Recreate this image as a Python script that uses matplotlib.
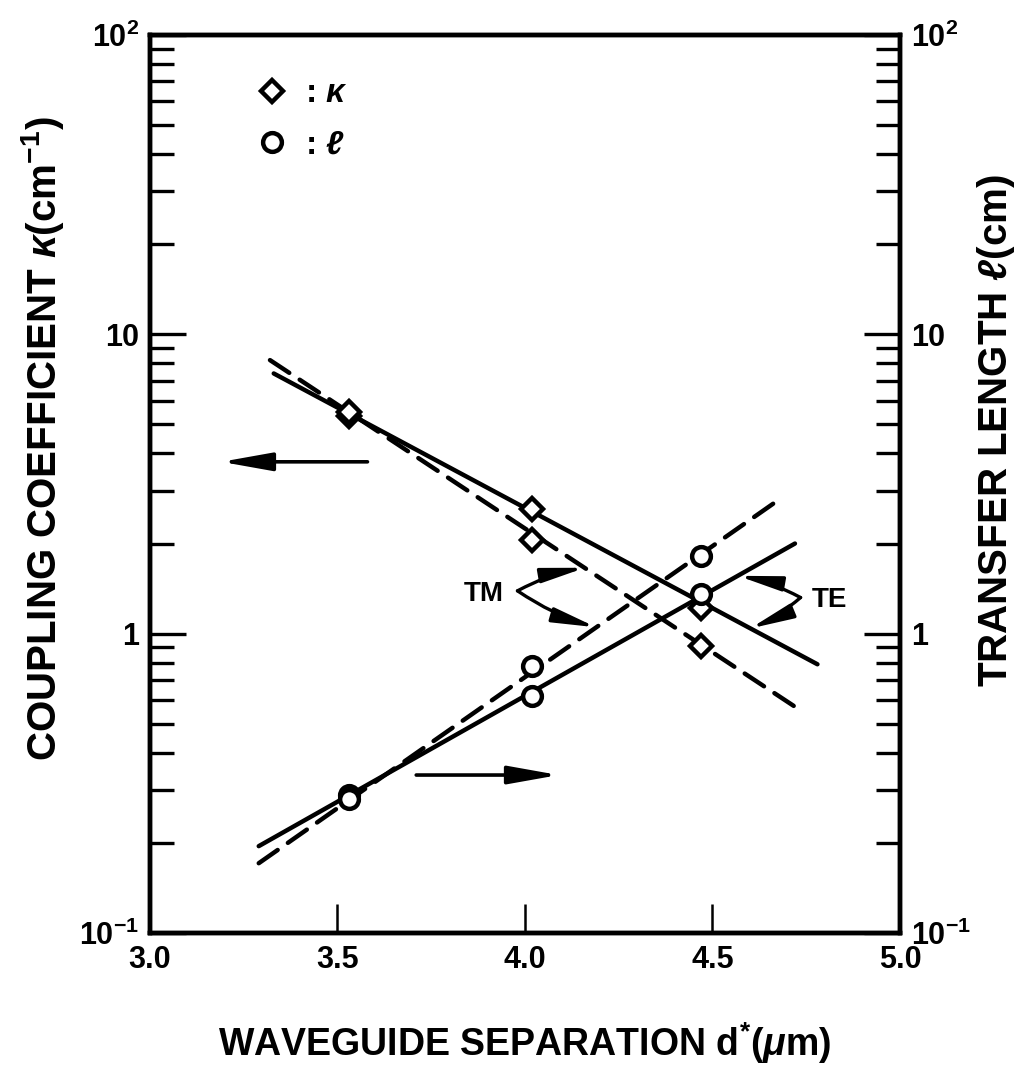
import matplotlib
matplotlib.use("Agg")
import matplotlib.pyplot as plt
from matplotlib.lines import Line2D
from matplotlib.ticker import FixedLocator, LogLocator, NullFormatter

plt.rcParams['font.family'] = ['Liberation Sans', 'DejaVu Sans']
plt.rcParams['font.weight'] = 'bold'
plt.rcParams['axes.labelweight'] = 'bold'
plt.rcParams['mathtext.fontset'] = 'custom'
plt.rcParams['mathtext.rm'] = 'Liberation Sans:bold'
plt.rcParams['mathtext.it'] = 'Liberation Sans:bold:italic'
plt.rcParams['mathtext.bf'] = 'Liberation Sans:bold'

# measured points (waveguide separation in um)
d_meas = [3.53, 4.02, 4.47]
kappa_te = [5.35, 2.6, 1.22]
kappa_tm = [5.5, 2.05, 0.91]
len_te = [0.29, 0.62, 1.36]
len_tm = [0.28, 0.78, 1.82]

# fitted straight lines, end points
kappa_te_fit_d = [3.33, 4.78]
kappa_te_fit = [7.4, 0.79]
kappa_tm_fit_d = [3.32, 4.72]
kappa_tm_fit = [8.2, 0.57]
len_te_fit_d = [3.29, 4.72]
len_te_fit = [0.195, 2.0]
len_tm_fit_d = [3.29, 4.675]
len_tm_fit = [0.171, 2.79]

x_ticks = [3.0, 3.5, 4.0, 4.5, 5.0]
x_labels = ['3.0', '3.5', '4.0', '4.5', '5.0']
y_ticks = [0.1, 1, 10, 100]
y_labels = [r'$10^{-1}$', '1', '10', r'$10^{2}$']

fig = plt.figure(figsize=(10.33, 10.73), dpi=100)
ax = fig.add_axes([0.1452, 0.1305, 0.7260, 0.8369])
ax2 = ax.twinx()

dash = (0, (5.2, 2.8))
lw = 3.2
mk = dict(ls='none', mfc='white', mec='black', mew=3.2)

# coupling coefficient (left axis)
ax.plot(kappa_te_fit_d, kappa_te_fit, color='black', lw=lw, solid_capstyle='round')
ax.plot(kappa_tm_fit_d, kappa_tm_fit, color='black', lw=lw, ls=dash, dash_capstyle='round')
ax.plot(d_meas, kappa_te, marker='D', ms=11, **mk)
ax.plot(d_meas, kappa_tm, marker='D', ms=11, **mk)

# transfer length (right axis)
ax2.plot(len_te_fit_d, len_te_fit, color='black', lw=lw, solid_capstyle='round')
ax2.plot(len_tm_fit_d, len_tm_fit, color='black', lw=lw, ls=dash, dash_capstyle='round')
ax2.plot(d_meas, len_te, marker='o', ms=13.5, **mk)
ax2.plot(d_meas, len_tm, marker='o', ms=13.5, **mk)

for a in (ax, ax2):
    a.set_yscale('log')
    a.set_ylim(0.1, 100)
    a.set_xlim(3.0, 5.0)
    a.yaxis.set_major_locator(FixedLocator(y_ticks))
    a.yaxis.set_minor_locator(LogLocator(base=10, subs=range(2, 10)))
    a.yaxis.set_minor_formatter(NullFormatter())
    a.set_yticks(y_ticks)
    a.set_yticklabels(y_labels, fontweight='bold')
    for s in a.spines.values():
        s.set_linewidth(3.2)

ax.set_xticks(x_ticks)
ax.set_xticklabels(x_labels, fontweight='bold')
ax.tick_params(axis='x', direction='in', length=21, width=1.8, labelsize=22, pad=9, top=False)
ax.tick_params(axis='y', which='major', direction='in', length=26, width=2.4, labelsize=22, pad=8, left=True, right=False)
ax.tick_params(axis='y', which='minor', direction='in', length=17, width=2.4, left=True, right=False)
ax2.tick_params(axis='y', which='major', direction='in', length=26, width=2.4, labelsize=22, pad=8)
ax2.tick_params(axis='y', which='minor', direction='in', length=17, width=2.4)

ax.set_xlabel(r'WAVEGUIDE SEPARATION d$^{*}$($\mu$m)', fontsize=27, fontweight='bold', labelpad=32)
ax.set_ylabel(r'COUPLING COEFFICIENT $\kappa$(cm$^{-1}$)', fontsize=29, fontweight='bold')
ax.yaxis.set_label_coords(-0.112, 0.55)
ax2.set_ylabel(r'TRANSFER LENGTH $\ell$(cm)', fontsize=29, fontweight='bold')
ax2.yaxis.set_label_coords(1.10, 0.56)

# legend for marker symbols
handles = [Line2D([], [], marker='D', ms=11, **mk), Line2D([], [], marker='o', ms=13.5, **mk)]
ax.legend(handles, [r': $\kappa$', r': $\ell$'], loc='upper left', bbox_to_anchor=(0.1, 0.985),
          frameon=False, fontsize=24, handlelength=1.0, handletextpad=0.5, labelspacing=0.6)

# axis pointers
head = '-|>,head_length=1.4,head_width=0.25'
ax.annotate('', xy=(3.19, 3.75), xytext=(3.58, 3.75),
            arrowprops=dict(arrowstyle=head, color='black', lw=2.6, mutation_scale=22, shrinkA=0, shrinkB=0))
ax2.annotate('', xy=(4.09, 0.337), xytext=(3.71, 0.337),
             arrowprops=dict(arrowstyle=head, color='black', lw=2.6, mutation_scale=22, shrinkA=0, shrinkB=0))

# TM / TE callouts
head2 = '-|>,head_length=1.3,head_width=0.22'
ap = dict(arrowstyle=head2, color='black', lw=2.4, mutation_scale=20, shrinkA=0, shrinkB=0)
ax2.text(3.89, 1.36, 'TM', fontsize=20, fontweight='bold', ha='center', va='center')
ax2.annotate('', xy=(4.16, 1.66), xytext=(3.98, 1.39),
             arrowprops=dict(ap, connectionstyle='arc3,rad=-0.08'))
ax2.annotate('', xy=(4.19, 1.05), xytext=(3.98, 1.39),
             arrowprops=dict(ap, connectionstyle='arc3,rad=0.08'))
ax2.text(4.765, 1.30, 'TE', fontsize=20, fontweight='bold', ha='left', va='center')
ax2.annotate('', xy=(4.568, 1.56), xytext=(4.735, 1.32),
             arrowprops=dict(ap, connectionstyle='arc3,rad=0.08'))
ax2.annotate('', xy=(4.60, 1.04), xytext=(4.735, 1.32),
             arrowprops=dict(ap, connectionstyle='arc3,rad=-0.08'))

fig.savefig('out.png', dpi=100)
